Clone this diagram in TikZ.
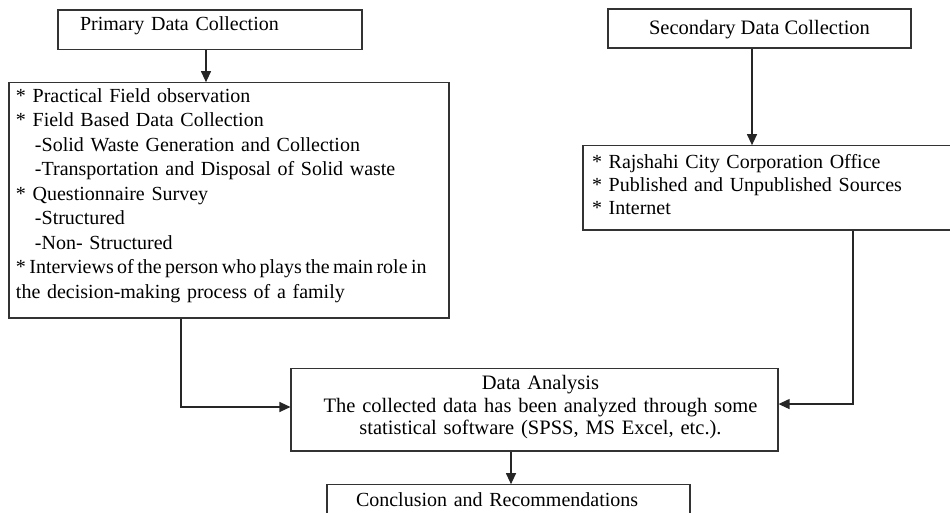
\documentclass[tikz,border=0pt]{standalone}
\usepackage{fontspec}
\setmainfont{Liberation Serif}
\usetikzlibrary{arrows.meta}
\begin{document}
\begin{tikzpicture}[x=1pt,y=-1pt,
  box/.style={draw=black!80, line width=1.1pt, inner sep=0pt, fill=white,
    font=\fontsize{20}{24}\selectfont},
  conn/.style={draw=black!85, line width=1.2pt, -{Triangle[length=11pt,width=10pt]}},
]
\useasboundingbox (0,0) rectangle (950,513);
\clip (0,0) rectangle (950,513);
\fill[white] (0,0) rectangle (950,513);

% boxes
\node[box, minimum width=304pt, minimum height=39.3pt, text width=304pt, align=left,
      text height=12pt, text depth=9.4pt] (prim) at (210,29.65)
  {\hspace*{22pt}Primary Data Collection};

\node[box, minimum width=303pt, minimum height=39pt, align=center,
      font=\fontsize{20.5}{24}\selectfont,
      text height=14pt, text depth=2.4pt] (sec) at (759.5,28.5)
  {Secondary Data Collection};

\node[box, minimum width=440pt, minimum height=235.3pt, text width=426pt, inner xsep=7pt,
      align=left, font=\fontsize{20}{24.5}\selectfont,
      text height=14pt, text depth=210.6pt] (lbox) at (229,200.35)
  {{}* Practical Field observation\\{}%
   * Field Based Data Collection\\{}%
   \hspace*{19pt}-Solid Waste Generation and Collection\\{}%
   \hspace*{19pt}-Transportation and Disposal of Solid waste\\{}%
   * Questionnaire Survey\\{}%
   \hspace*{19pt}-Structured\\{}%
   \hspace*{19pt}-Non- Structured\\{}%
   \mbox{\spaceskip=3.4pt plus 0pt * Interviews of the person who plays the main role in}\\{}%
   the decision-making process of a family};

\node[box, minimum width=377pt, minimum height=84.3pt, text width=359pt, inner xsep=9pt,
      align=left, font=\fontsize{20}{23}\selectfont,
      text height=14pt, text depth=51.7pt] (rbox) at (771.5,187.85)
  {{}* Rajshahi City Corporation Office\\{}%
   * Published and Unpublished Sources\\{}%
   * Internet};

\node[box, minimum width=487pt, minimum height=82.7pt, text width=470pt, inner xsep=8.5pt,
      align=center, font=\fontsize{20.5}{22.5}\selectfont,
      text height=14pt, text depth=53.4pt] (da) at (534.5,409.65)
  {\hspace*{12pt}Data Analysis\\
   \hspace*{12pt}The collected data has been analyzed through some\\
   \hspace*{12pt}statistical software (SPSS, MS Excel, etc.).};

\node[box, minimum width=363pt, minimum height=45.3pt, text width=363pt, align=left,
      text height=14pt, text depth=16.7pt] (conc) at (508.5,507.35)
  {\hspace*{29pt}Conclusion and Recommendations};

% connector x positions
\coordinate (px) at (206,0);
\coordinate (sx) at (752,0);
\coordinate (lx) at (181,0);
\coordinate (rx) at (853,0);
\coordinate (ax) at (511,0);

\draw[conn] (prim.south -| px) -- (lbox.north -| px);
\draw[conn] (sec.south -| sx) -- (rbox.north -| sx);
\draw[conn] (lbox.south -| lx) |- ([yshift=2.65pt]da.west);
\draw[conn] (rbox.south -| rx) |- ([yshift=5.6pt]da.east);
\draw[conn] (da.south -| ax) -- (conc.north -| ax);
\end{tikzpicture}
\end{document}
